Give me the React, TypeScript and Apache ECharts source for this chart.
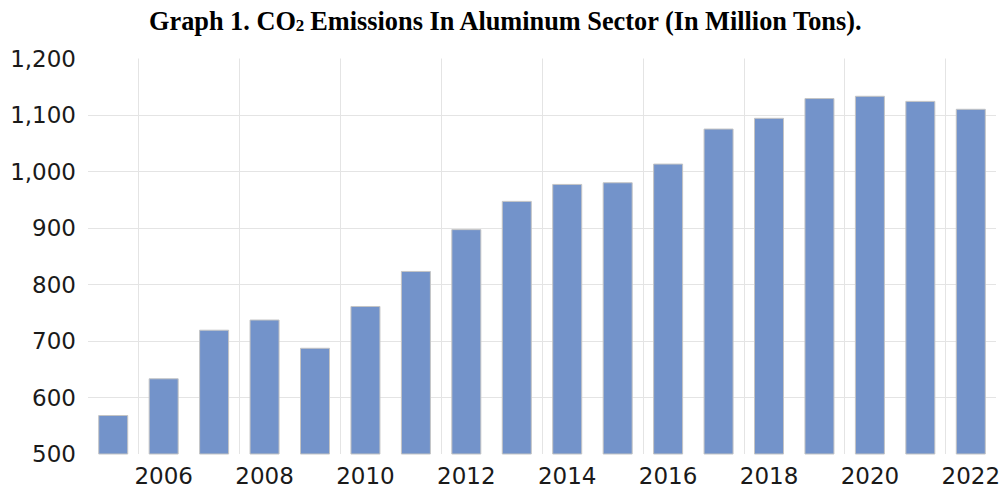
import React, { useEffect, useRef } from "react";
import * as echarts from "echarts";

const years = ["2005","2006","2007","2008","2009","2010","2011","2012","2013","2014","2015","2016","2017","2018","2019","2020","2021","2022"];
const emissions = [569, 634, 720, 738, 688, 762, 824, 898, 948, 978, 981, 1014, 1076, 1095, 1130, 1134, 1125, 1111];
const yMin = 500;
const yMax = 1200;
const yStep = 100;

export default function App() {
  const ref = useRef<HTMLDivElement>(null);
  useEffect(() => {
    document.body.style.margin = "0";
    const chart = echarts.init(ref.current!, undefined, { renderer: "svg" });
    chart.setOption({
      animation: false,
      backgroundColor: "#ffffff",
      title: {
        text: "Graph 1. CO{sub|2}Emissions In Aluminum Sector (In Million Tons).",
        left: 144,
        top: 3,
        textStyle: {
          fontFamily: "Liberation Serif",
          fontWeight: "bold",
          fontSize: 26.3,
          color: "#000",
          rich: {
            sub: { fontFamily: "Liberation Serif", fontWeight: "bold", fontSize: 17, color: "#000", padding: [9, 6, 0, 0] },
          },
        },
      },
      grid: { left: 88, right: 5, top: 58.5, bottom: 34, containLabel: false },
      xAxis: {
        type: "category",
        data: years,
        axisLine: { show: false },
        axisTick: { show: false },
        axisLabel: {
          interval: (i: number) => i % 2 === 1,
          fontFamily: "DejaVu Sans",
          fontSize: 23,
          color: "#1a1a1a",
          margin: 10,
        },
        splitLine: {
          show: true,
          showMaxLine: false,
          interval: (i: number) => i % 2 === 1,
          lineStyle: { color: "#e4e4e4", width: 1 },
        },
      },
      yAxis: {
        type: "value",
        min: yMin,
        max: yMax,
        interval: yStep,
        axisLine: { show: false },
        axisTick: { show: false },
        axisLabel: {
          fontFamily: "DejaVu Sans",
          fontSize: 23,
          color: "#1a1a1a",
          margin: 12,
          formatter: (v: number) => v.toLocaleString("en-US"),
        },
        splitLine: {
          show: true,
          showMinLine: false,
          showMaxLine: false,
          lineStyle: { color: "#e4e4e4", width: 1 },
        },
      },
      series: [
        {
          type: "bar",
          data: emissions,
          barWidth: 30,
          itemStyle: { color: "#7393ca", borderColor: "#c4c4c4", borderWidth: 1 },
        },
      ],
    });
    return () => chart.dispose();
  }, []);
  return <div ref={ref} style={{ position: "absolute", left: 0, top: 0, width: 1003, height: 488 }} />;
}
